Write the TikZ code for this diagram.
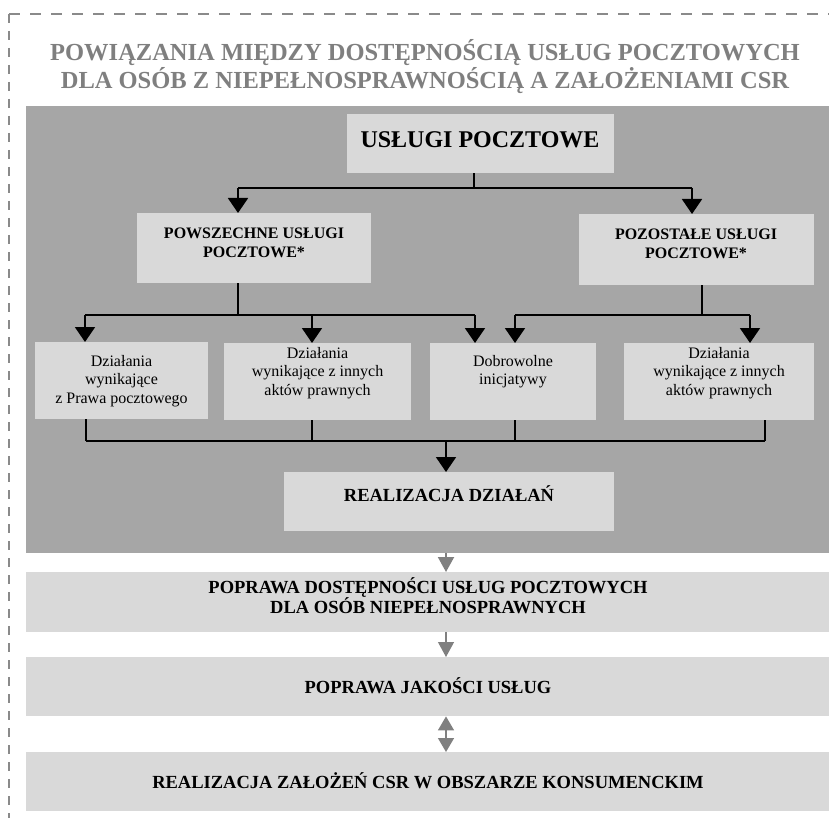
\documentclass[tikz,border=0pt]{standalone}
\usepackage{fontspec}
\setmainfont{Liberation Serif}
\usetikzlibrary{arrows.meta}
\definecolor{panelgray}{HTML}{A6A6A6}
\definecolor{boxgray}{HTML}{D9D9D9}
\definecolor{titlegray}{HTML}{7F7F7F}
\definecolor{arrgray}{HTML}{808080}
\definecolor{dashgray}{HTML}{8A8A8A}
\newcommand{\fz}[2]{\fontsize{#1}{#2}\selectfont\lineskiplimit=-100pt\lineskip=0pt}
\newcommand{\tprule}[1]{\rule{0pt}{#1}}
\begin{document}
\begin{tikzpicture}[x=1pt,y=-1pt,
  box/.style={fill=boxgray, draw=none, anchor=north west, inner sep=0pt},
  txt/.style={anchor=north, inner sep=0pt, align=center},
  one/.style={anchor=base, inner sep=0pt},
  conn/.style={line width=1.9pt, black},
  arr/.style={conn, -{Triangle[width=20pt,length=15pt]}},
  garr/.style={arrgray, line width=2pt, -{Triangle[width=16pt,length=15pt]}},
  gthin/.style={arrgray, line width=1.2pt, -{Triangle[width=16pt,length=15pt]}},
  gdbl/.style={arrgray, line width=1.5pt, {Triangle[width=16pt,length=14pt]}-{Triangle[width=16pt,length=14pt]}},
  frame/.style={dashgray, line width=2pt}
]
\useasboundingbox (0,0) rectangle (829,818);
\clip (0,0) rectangle (829,818);
% dashed frame
\draw[frame, dash pattern=on 11pt off 10pt] (9,14) -- (845,14);
\draw[frame, dash pattern=on 9pt off 8pt] (9,14) -- (9,835);

% title
\node[txt, font=\bfseries\fz{24.5}{28}, text=titlegray] (title) at (425,34)
  {\tprule{26pt}POWIĄZANIA MIĘDZY DOSTĘPNOŚCIĄ USŁUG POCZTOWYCH\\DLA OSÓB Z NIEPEŁNOSPRAWNOŚCIĄ A ZAŁOŻENIAMI CSR};

% dark panel
\node[fill=panelgray, anchor=north west, inner sep=0pt, minimum width=810pt, minimum height=447pt] (panel) at (26,106) {};

% boxes
\node[box, minimum width=267pt, minimum height=59pt] (top) at (347,114) {};
\node[box, minimum width=234pt, minimum height=70pt] (pow) at (137,213) {};
\node[box, minimum width=235pt, minimum height=71pt] (poz) at (579,214) {};
\node[box, minimum width=173pt, minimum height=77pt] (b1) at (35,342) {};
\node[box, minimum width=187pt, minimum height=77pt] (b2) at (224,343) {};
\node[box, minimum width=166pt, minimum height=77pt] (b3) at (430,343) {};
\node[box, minimum width=190pt, minimum height=77pt] (b4) at (624,343) {};
\node[box, minimum width=330pt, minimum height=59pt] (real) at (284,472) {};
\node[box, minimum width=810pt, minimum height=60pt] (boxA) at (26,572) {};
\node[box, minimum width=810pt, minimum height=59pt] (boxB) at (26,657) {};
\node[box, minimum width=810pt, minimum height=59pt] (boxC) at (26,752) {};

% texts
\node[one, font=\bfseries\fz{24}{28}] (toptxt) at (480,148) {USŁUGI POCZTOWE};
\node[txt, font=\bfseries\fz{16}{19}] (powtxt) at (254,222) {\tprule{16pt}POWSZECHNE USŁUGI\\POCZTOWE*};
\node[txt, font=\bfseries\fz{16}{19}] (poztxt) at (696,223) {\tprule{16pt}POZOSTAŁE USŁUGI\\POCZTOWE*};
\node[txt, font=\fz{16}{18.5}] (b1txt) at (121.5,350) {\tprule{16pt}Działania\\wynikające\\z Prawa pocztowego};
\node[txt, font=\fz{16}{18.5}] (b2txt) at (317.5,342) {\tprule{16pt}Działania\\wynikające z innych\\aktów prawnych};
\node[txt, font=\fz{16}{18.5}] (b3txt) at (513,350) {\tprule{16pt}Dobrowolne\\inicjatywy};
\node[txt, font=\fz{16}{18.5}] (b4txt) at (719,342) {\tprule{16pt}Działania\\wynikające z innych\\aktów prawnych};
\node[one, font=\bfseries\fz{18.5}{21}] (realtxt) at (449,501) {REALIZACJA DZIAŁAŃ};
\node[txt, font=\bfseries\fz{18.5}{20.5}] (boxAtxt) at (428,574) {\tprule{19pt}POPRAWA DOSTĘPNOŚCI USŁUG POCZTOWYCH\\DLA OSÓB NIEPEŁNOSPRAWNYCH};
\node[one, font=\bfseries\fz{18.5}{21}] (boxBtxt) at (428,693) {POPRAWA JAKOŚCI USŁUG};
\node[one, font=\bfseries\fz{18.5}{21}] (boxCtxt) at (428,788) {REALIZACJA ZAŁOŻEŃ CSR W OBSZARZE KONSUMENCKIM};

% junctions
\coordinate (j0) at (474,188);
\coordinate (jL) at (238,188);
\coordinate (jR) at (692,188);
\coordinate (k0) at (238,315);
\coordinate (k1) at (85,315);
\coordinate (k2) at (312,315);
\coordinate (k3) at (475,315);
\coordinate (m0) at (702,315);
\coordinate (m1) at (515,315);
\coordinate (m2) at (750,315);
\coordinate (n1) at (86,441);
\coordinate (n2) at (312,441);
\coordinate (n3) at (515,441);
\coordinate (n4) at (765,441);
\coordinate (n0) at (446,441);

% black connectors
\draw[conn] (top.south -| j0) -- (j0);
\draw[conn] (jL) -- (jR);
\draw[arr] (jL) -- (jL |- pow.north);
\draw[arr] (jR) -- (jR |- poz.north);
\draw[conn] (pow.south -| k0) -- (k0);
\draw[conn] (k1) -- (k3);
\draw[arr] (k1) -- (k1 |- b1.north);
\draw[arr] (k2) -- (k2 |- b2.north);
\draw[arr] (k3) -- (k3 |- b3.north);
\draw[conn] (poz.south -| m0) -- (m0);
\draw[conn] (m1) -- (m2);
\draw[arr] (m1) -- (m1 |- b3.north);
\draw[arr] (m2) -- (m2 |- b4.north);
\draw[conn] (b1.south -| n1) -- (n1);
\draw[conn] (b2.south -| n2) -- (n2);
\draw[conn] (b3.south -| n3) -- (n3);
\draw[conn] (b4.south -| n4) -- (n4);
\draw[conn] (n1) -- (n4);
\draw[arr] (n0) -- (n0 |- real.north);

% gray arrows
\draw[garr] (panel.south -| n0) -- (n0 |- boxA.north);
\draw[gthin] (boxA.south -| n0) -- (n0 |- boxB.north);
\draw[gdbl] (boxB.south -| n0) -- (n0 |- boxC.north);
\end{tikzpicture}
\end{document}
